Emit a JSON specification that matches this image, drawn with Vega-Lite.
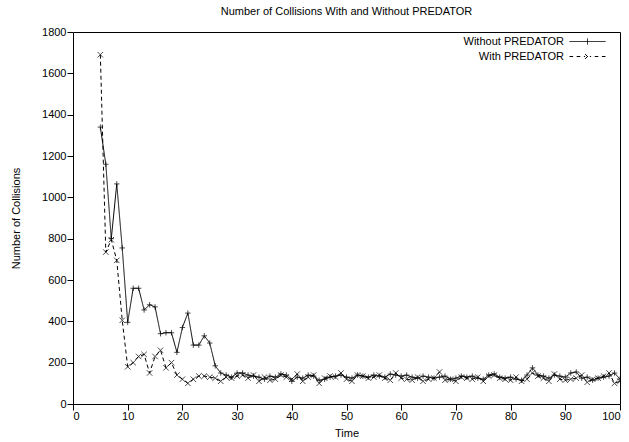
{
  "$schema": "https://vega.github.io/schema/vega-lite/v6.json",
  "width": 547,
  "height": 372,
  "autosize": {"type": "none"},
  "padding": {"left": 73, "top": 32, "right": 9, "bottom": 38},
  "background": "white",
  "title": {"text": "Number of Collisions With and Without PREDATOR", "font": "Liberation Sans", "fontSize": 11, "fontWeight": "normal", "color": "black", "offset": 9, "anchor": "middle"},
  "config": {
    "view": {"stroke": "black", "strokeWidth": 1},
    "axis": {"labelFont": "Liberation Sans", "labelFontSize": 11, "labelColor": "black", "titleFont": "Liberation Sans", "titleFontSize": 11, "titleFontWeight": "normal", "titleColor": "black", "grid": false, "domainColor": "black", "tickColor": "black", "format": "d"},
    "legend": {"labelFont": "Liberation Sans", "labelFontSize": 11, "labelColor": "black"}
  },
  "data": {"values": [
    {"t":5,"s":"Without PREDATOR","v":1340},{"t":6,"s":"Without PREDATOR","v":1160},{"t":7,"s":"Without PREDATOR","v":800},{"t":8,"s":"Without PREDATOR","v":1065},{"t":9,"s":"Without PREDATOR","v":755},{"t":10,"s":"Without PREDATOR","v":395},{"t":11,"s":"Without PREDATOR","v":560},{"t":12,"s":"Without PREDATOR","v":560},{"t":13,"s":"Without PREDATOR","v":455},{"t":14,"s":"Without PREDATOR","v":480},{"t":15,"s":"Without PREDATOR","v":470},{"t":16,"s":"Without PREDATOR","v":340},{"t":17,"s":"Without PREDATOR","v":345},{"t":18,"s":"Without PREDATOR","v":345},{"t":19,"s":"Without PREDATOR","v":250},{"t":20,"s":"Without PREDATOR","v":370},{"t":21,"s":"Without PREDATOR","v":440},{"t":22,"s":"Without PREDATOR","v":285},{"t":23,"s":"Without PREDATOR","v":285},{"t":24,"s":"Without PREDATOR","v":330},{"t":25,"s":"Without PREDATOR","v":295},{"t":26,"s":"Without PREDATOR","v":185},{"t":27,"s":"Without PREDATOR","v":150},{"t":28,"s":"Without PREDATOR","v":140},{"t":29,"s":"Without PREDATOR","v":130},{"t":30,"s":"Without PREDATOR","v":150},{"t":31,"s":"Without PREDATOR","v":150},{"t":32,"s":"Without PREDATOR","v":140},{"t":33,"s":"Without PREDATOR","v":135},{"t":34,"s":"Without PREDATOR","v":130},{"t":35,"s":"Without PREDATOR","v":120},{"t":36,"s":"Without PREDATOR","v":135},{"t":37,"s":"Without PREDATOR","v":130},{"t":38,"s":"Without PREDATOR","v":145},{"t":39,"s":"Without PREDATOR","v":140},{"t":40,"s":"Without PREDATOR","v":110},{"t":41,"s":"Without PREDATOR","v":130},{"t":42,"s":"Without PREDATOR","v":125},{"t":43,"s":"Without PREDATOR","v":140},{"t":44,"s":"Without PREDATOR","v":135},{"t":45,"s":"Without PREDATOR","v":115},{"t":46,"s":"Without PREDATOR","v":120},{"t":47,"s":"Without PREDATOR","v":130},{"t":48,"s":"Without PREDATOR","v":135},{"t":49,"s":"Without PREDATOR","v":140},{"t":50,"s":"Without PREDATOR","v":130},{"t":51,"s":"Without PREDATOR","v":125},{"t":52,"s":"Without PREDATOR","v":140},{"t":53,"s":"Without PREDATOR","v":135},{"t":54,"s":"Without PREDATOR","v":130},{"t":55,"s":"Without PREDATOR","v":140},{"t":56,"s":"Without PREDATOR","v":135},{"t":57,"s":"Without PREDATOR","v":130},{"t":58,"s":"Without PREDATOR","v":145},{"t":59,"s":"Without PREDATOR","v":140},{"t":60,"s":"Without PREDATOR","v":135},{"t":61,"s":"Without PREDATOR","v":140},{"t":62,"s":"Without PREDATOR","v":130},{"t":63,"s":"Without PREDATOR","v":125},{"t":64,"s":"Without PREDATOR","v":135},{"t":65,"s":"Without PREDATOR","v":130},{"t":66,"s":"Without PREDATOR","v":125},{"t":67,"s":"Without PREDATOR","v":130},{"t":68,"s":"Without PREDATOR","v":135},{"t":69,"s":"Without PREDATOR","v":120},{"t":70,"s":"Without PREDATOR","v":125},{"t":71,"s":"Without PREDATOR","v":135},{"t":72,"s":"Without PREDATOR","v":130},{"t":73,"s":"Without PREDATOR","v":135},{"t":74,"s":"Without PREDATOR","v":125},{"t":75,"s":"Without PREDATOR","v":120},{"t":76,"s":"Without PREDATOR","v":140},{"t":77,"s":"Without PREDATOR","v":145},{"t":78,"s":"Without PREDATOR","v":130},{"t":79,"s":"Without PREDATOR","v":125},{"t":80,"s":"Without PREDATOR","v":130},{"t":81,"s":"Without PREDATOR","v":120},{"t":82,"s":"Without PREDATOR","v":115},{"t":83,"s":"Without PREDATOR","v":140},{"t":84,"s":"Without PREDATOR","v":175},{"t":85,"s":"Without PREDATOR","v":140},{"t":86,"s":"Without PREDATOR","v":135},{"t":87,"s":"Without PREDATOR","v":125},{"t":88,"s":"Without PREDATOR","v":140},{"t":89,"s":"Without PREDATOR","v":135},{"t":90,"s":"Without PREDATOR","v":130},{"t":91,"s":"Without PREDATOR","v":150},{"t":92,"s":"Without PREDATOR","v":155},{"t":93,"s":"Without PREDATOR","v":125},{"t":94,"s":"Without PREDATOR","v":130},{"t":95,"s":"Without PREDATOR","v":115},{"t":96,"s":"Without PREDATOR","v":125},{"t":97,"s":"Without PREDATOR","v":130},{"t":98,"s":"Without PREDATOR","v":135},{"t":99,"s":"Without PREDATOR","v":150},{"t":100,"s":"Without PREDATOR","v":120},
    {"t":5,"s":"With PREDATOR","v":1690},{"t":6,"s":"With PREDATOR","v":735},{"t":7,"s":"With PREDATOR","v":795},{"t":8,"s":"With PREDATOR","v":695},{"t":9,"s":"With PREDATOR","v":405},{"t":10,"s":"With PREDATOR","v":180},{"t":11,"s":"With PREDATOR","v":200},{"t":12,"s":"With PREDATOR","v":230},{"t":13,"s":"With PREDATOR","v":240},{"t":14,"s":"With PREDATOR","v":150},{"t":15,"s":"With PREDATOR","v":230},{"t":16,"s":"With PREDATOR","v":260},{"t":17,"s":"With PREDATOR","v":175},{"t":18,"s":"With PREDATOR","v":200},{"t":19,"s":"With PREDATOR","v":140},{"t":20,"s":"With PREDATOR","v":120},{"t":21,"s":"With PREDATOR","v":100},{"t":22,"s":"With PREDATOR","v":120},{"t":23,"s":"With PREDATOR","v":135},{"t":24,"s":"With PREDATOR","v":135},{"t":25,"s":"With PREDATOR","v":130},{"t":26,"s":"With PREDATOR","v":125},{"t":27,"s":"With PREDATOR","v":110},{"t":28,"s":"With PREDATOR","v":130},{"t":29,"s":"With PREDATOR","v":125},{"t":30,"s":"With PREDATOR","v":135},{"t":31,"s":"With PREDATOR","v":140},{"t":32,"s":"With PREDATOR","v":125},{"t":33,"s":"With PREDATOR","v":140},{"t":34,"s":"With PREDATOR","v":110},{"t":35,"s":"With PREDATOR","v":130},{"t":36,"s":"With PREDATOR","v":115},{"t":37,"s":"With PREDATOR","v":120},{"t":38,"s":"With PREDATOR","v":140},{"t":39,"s":"With PREDATOR","v":130},{"t":40,"s":"With PREDATOR","v":120},{"t":41,"s":"With PREDATOR","v":145},{"t":42,"s":"With PREDATOR","v":110},{"t":43,"s":"With PREDATOR","v":130},{"t":44,"s":"With PREDATOR","v":140},{"t":45,"s":"With PREDATOR","v":100},{"t":46,"s":"With PREDATOR","v":125},{"t":47,"s":"With PREDATOR","v":135},{"t":48,"s":"With PREDATOR","v":130},{"t":49,"s":"With PREDATOR","v":150},{"t":50,"s":"With PREDATOR","v":120},{"t":51,"s":"With PREDATOR","v":110},{"t":52,"s":"With PREDATOR","v":140},{"t":53,"s":"With PREDATOR","v":135},{"t":54,"s":"With PREDATOR","v":125},{"t":55,"s":"With PREDATOR","v":130},{"t":56,"s":"With PREDATOR","v":140},{"t":57,"s":"With PREDATOR","v":125},{"t":58,"s":"With PREDATOR","v":115},{"t":59,"s":"With PREDATOR","v":150},{"t":60,"s":"With PREDATOR","v":125},{"t":61,"s":"With PREDATOR","v":120},{"t":62,"s":"With PREDATOR","v":115},{"t":63,"s":"With PREDATOR","v":130},{"t":64,"s":"With PREDATOR","v":110},{"t":65,"s":"With PREDATOR","v":120},{"t":66,"s":"With PREDATOR","v":125},{"t":67,"s":"With PREDATOR","v":155},{"t":68,"s":"With PREDATOR","v":115},{"t":69,"s":"With PREDATOR","v":120},{"t":70,"s":"With PREDATOR","v":110},{"t":71,"s":"With PREDATOR","v":130},{"t":72,"s":"With PREDATOR","v":125},{"t":73,"s":"With PREDATOR","v":120},{"t":74,"s":"With PREDATOR","v":130},{"t":75,"s":"With PREDATOR","v":110},{"t":76,"s":"With PREDATOR","v":135},{"t":77,"s":"With PREDATOR","v":140},{"t":78,"s":"With PREDATOR","v":125},{"t":79,"s":"With PREDATOR","v":120},{"t":80,"s":"With PREDATOR","v":115},{"t":81,"s":"With PREDATOR","v":130},{"t":82,"s":"With PREDATOR","v":110},{"t":83,"s":"With PREDATOR","v":120},{"t":84,"s":"With PREDATOR","v":150},{"t":85,"s":"With PREDATOR","v":135},{"t":86,"s":"With PREDATOR","v":125},{"t":87,"s":"With PREDATOR","v":110},{"t":88,"s":"With PREDATOR","v":145},{"t":89,"s":"With PREDATOR","v":120},{"t":90,"s":"With PREDATOR","v":115},{"t":91,"s":"With PREDATOR","v":120},{"t":92,"s":"With PREDATOR","v":125},{"t":93,"s":"With PREDATOR","v":140},{"t":94,"s":"With PREDATOR","v":105},{"t":95,"s":"With PREDATOR","v":120},{"t":96,"s":"With PREDATOR","v":125},{"t":97,"s":"With PREDATOR","v":135},{"t":98,"s":"With PREDATOR","v":150},{"t":99,"s":"With PREDATOR","v":100},{"t":100,"s":"With PREDATOR","v":110}
  ]},
  "layer": [
    {
      "mark": {"type": "line", "color": "black", "strokeWidth": 1, "clip": true},
      "encoding": {
        "x": {"field": "t", "type": "quantitative", "scale": {"domain": [0, 100], "nice": false, "zero": false}, "axis": {"title": "Time", "values": [0,10,20,30,40,50,60,70,80,90,100], "ticks": true, "tickSize": 6, "tickColor": "black", "domain": false, "labelPadding": 0, "titlePadding": 6}},
        "y": {"field": "v", "type": "quantitative", "scale": {"domain": [0, 1800], "nice": false}, "axis": {"title": "Number of Collisions", "values": [0,200,400,600,800,1000,1200,1400,1600,1800], "ticks": true, "tickSize": 6, "tickColor": "black", "domain": false, "labelPadding": 1, "titlePadding": 20}},
        "detail": {"field": "s"},
        "strokeDash": {"field": "s", "type": "nominal", "scale": {"domain": ["Without PREDATOR", "With PREDATOR"], "range": [[1, 0], [4, 3]]},
          "legend": {"title": null, "orient": "none", "legendX": 508, "legendY": 3, "symbolSize": 144, "symbolStrokeWidth": 1, "symbolStrokeColor": "black", "symbolFillColor": "transparent", "labelAlign": "right", "labelOffset": -30, "rowPadding": 3, "padding": 0,
            "encode": {"symbols": {"update": {"shape": {"signal": "datum.value === 'With PREDATOR' ? 'M-3,0H-2.4M-1.8,0H-1.2M-0.6,0H-0.4M0.4,0H0.6M1.2,0H1.8M2.4,0H3M-0.4,-0.4L0.4,0.4M-0.4,0.4L0.4,-0.4' : 'M-3,0H3M0,-0.5V0.5'"}, "strokeDash": {"value": [1, 0]}, "stroke": {"value": "black"}}}}}}
      }
    },
    {
      "transform": [{"filter": "datum.s === 'Without PREDATOR'"}],
      "mark": {"type": "point", "shape": "M-1,0H1M0,-1V1", "filled": false, "stroke": "black", "strokeWidth": 1, "size": 30, "clip": true},
      "encoding": {
        "x": {"field": "t", "type": "quantitative"},
        "y": {"field": "v", "type": "quantitative"}
      }
    },
    {
      "transform": [{"filter": "datum.s === 'With PREDATOR'"}],
      "mark": {"type": "point", "shape": "M-1,-1L1,1M-1,1L1,-1", "filled": false, "stroke": "black", "strokeWidth": 1, "size": 30, "clip": true},
      "encoding": {
        "x": {"field": "t", "type": "quantitative"},
        "y": {"field": "v", "type": "quantitative"}
      }
    }
  ]
}
